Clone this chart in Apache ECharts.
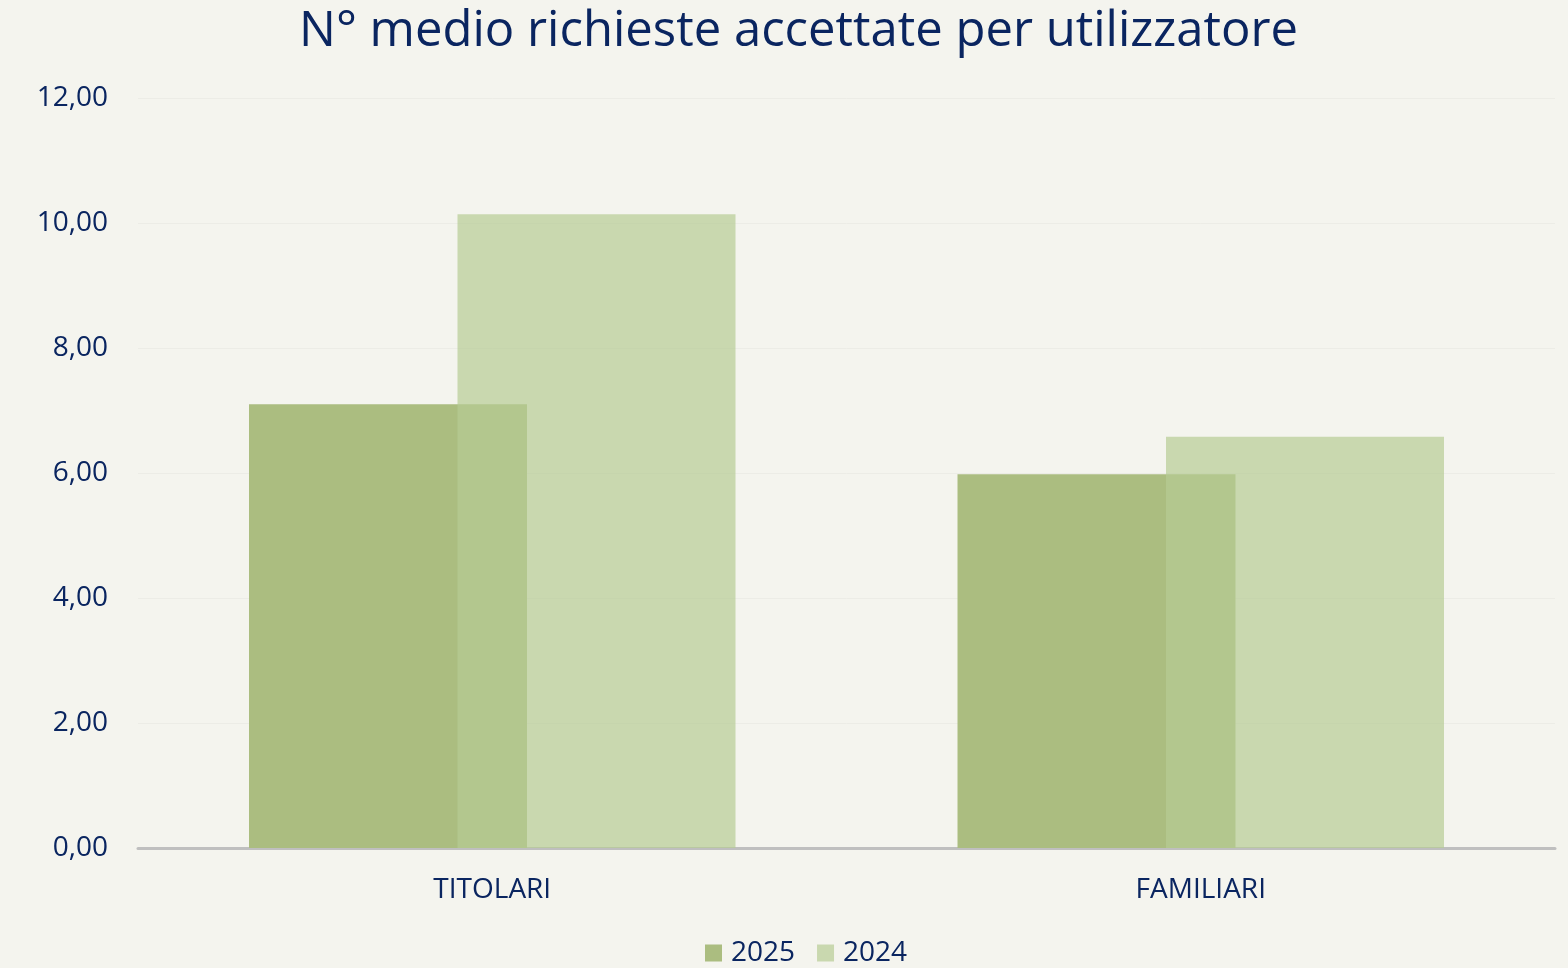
<!DOCTYPE html>
<html>
<head>
<meta charset="utf-8">
<title>N° medio richieste accettate per utilizzatore</title>
<script src="https://cdn.jsdelivr.net/npm/echarts@6/dist/echarts.min.js"></script>
<style>
html, body { margin: 0; padding: 0; background: #f4f4ee; }
#chartmain { width: 1568px; height: 968px; }
</style>
</head>
<body>
<div id="chartmain"></div>
<script>
var categories = ['TITOLARI', 'FAMILIARI'];
var seriesNames = ['2025', '2024'];
var values2025 = [7.10, 5.98];
var values2024 = [10.14, 6.58];

var textColor = '#0a2560';
var fontFamily = '"Open Sans", "Noto Sans", sans-serif';

var option = {
    backgroundColor: '#f4f4ee',
    title: {
        text: 'N° medio richieste accettate per utilizzatore',
        left: 294,
        top: 3,
        textStyle: {
            color: textColor,
            fontFamily: fontFamily,
            fontWeight: 'normal',
            fontSize: 49
        }
    },
    legend: {
        data: seriesNames,
        bottom: -4,
        left: 700,
        icon: 'rect',
        itemWidth: 17,
        itemHeight: 17,
        itemGap: 22,
        textStyle: {
            color: textColor,
            fontFamily: fontFamily,
            fontSize: 28,
            padding: [0, 0, 0, 4]
        }
    },
    grid: {
        left: 138,
        right: 13,
        top: 98,
        bottom: 120
    },
    xAxis: {
        type: 'category',
        data: categories,
        axisLine: { lineStyle: { color: '#bfbfbf', width: 3 } },
        axisTick: { show: false },
        axisLabel: {
            color: textColor,
            fontFamily: fontFamily,
            fontSize: 28,
            margin: 28
        }
    },
    yAxis: {
        type: 'value',
        min: 0,
        max: 12,
        interval: 2,
        axisLine: { show: false },
        axisTick: { show: false },
        splitLine: { lineStyle: { color: '#ecece6', width: 1 } },
        axisLabel: {
            color: textColor,
            fontFamily: fontFamily,
            fontSize: 28,
            margin: 30,
            formatter: function(v) {
                return v.toFixed(2).replace('.', ',');
            }
        }
    },
    series: [{
        name: seriesNames[0],
        type: 'bar',
        data: values2025,
        barWidth: 278,
        barGap: '-25%',
        itemStyle: { color: '#abbd80' }
    }, {
        name: seriesNames[1],
        type: 'bar',
        data: values2024,
        barWidth: 278,
        barGap: '-25%',
        itemStyle: { color: 'rgb(183,204,148)', opacity: 0.7 }
    }]
};

var myChart = echarts.init(document.getElementById('chartmain'));
myChart.setOption(option);
</script>
</body>
</html>
